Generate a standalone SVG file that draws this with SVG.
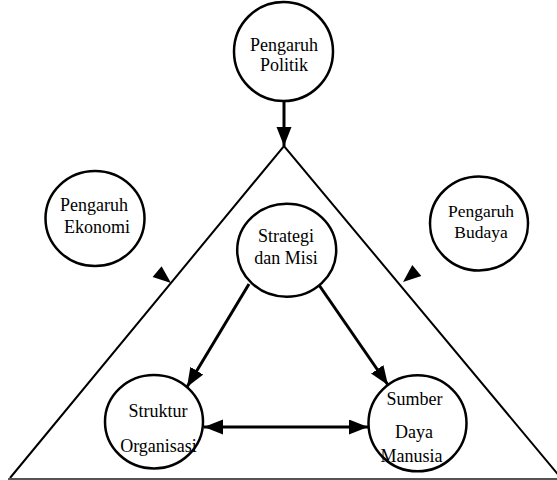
<svg xmlns="http://www.w3.org/2000/svg" width="557" height="480" viewBox="0 0 557 480">
<style>
.node{fill:#fff;stroke:#000;stroke-width:2.5}
.t{font-family:"Liberation Serif","Times New Roman",serif;font-size:18px;fill:#000;text-anchor:middle}
.edge{stroke:#000;stroke-width:3;fill:none}
.side{stroke:#000;stroke-width:2;fill:none}
.head{fill:#000;stroke:none}
</style>
<defs>
<marker id="ah" markerUnits="userSpaceOnUse" markerWidth="20" markerHeight="16" refX="19" refY="7.5" orient="auto-start-reverse">
<path d="M0,0 L19,7.5 L0,15 Z" fill="#000"/>
</marker>
</defs>
<rect width="557" height="480" fill="#fff"/>
<g id="triangle">
<path class="side" d="M10,478 L284,146 L561,478"/>
<line x1="8" y1="479" x2="557" y2="479" stroke="#555" stroke-width="2"/>
</g>
<g id="connectors">
<line class="edge" x1="284" y1="101" x2="284" y2="146" marker-end="url(#ah)"/>
<polygon class="head" points="171,283 152.6,277 161.6,266.2"/>
<polygon class="head" points="403,282 421.3,275.9 412.3,265.1"/>
<line class="edge" x1="249" y1="284" x2="187" y2="387" marker-end="url(#ah)"/>
<line class="edge" x1="319" y1="285" x2="388" y2="385" marker-end="url(#ah)"/>
<line class="edge" x1="204" y1="427" x2="368" y2="427" marker-start="url(#ah)" marker-end="url(#ah)"/>
</g>
<g id="politik">
<ellipse class="node" cx="283.5" cy="51.5" rx="49.5" ry="49.5"/>
<text class="t" x="284" y="51" font-size="19">Pengaruh</text>
<text class="t" x="284" y="71" font-size="19">Politik</text>
</g>
<g id="ekonomi">
<ellipse class="node" cx="95" cy="218.5" rx="49.5" ry="47.5"/>
<text class="t" x="94" y="211">Pengaruh</text>
<text class="t" x="97" y="233">Ekonomi</text>
</g>
<g id="budaya">
<ellipse class="node" cx="479" cy="223.5" rx="49" ry="47"/>
<text class="t" x="481" y="217" style="font-size:17.5px">Pengaruh</text>
<text class="t" x="481" y="238" style="font-size:17.5px">Budaya</text>
</g>
<g id="strategi">
<ellipse class="node" cx="286.7" cy="250.3" rx="49.5" ry="46.5"/>
<text class="t" x="286" y="242">Strategi</text>
<text class="t" x="286" y="264">dan Misi</text>
</g>
<g id="struktur">
<ellipse class="node" cx="154" cy="421.7" rx="49" ry="46.7"/>
<text class="t" x="158" y="417">Struktur</text>
<text class="t" x="158.5" y="452">Organisasi</text>
</g>
<g id="sdm">
<ellipse class="node" cx="417.5" cy="423.3" rx="49" ry="48"/>
<text class="t" x="414.5" y="405">Sumber</text>
<text class="t" x="414" y="438">Daya</text>
<text class="t" x="411.5" y="462">Manusia</text>
</g>
</svg>
